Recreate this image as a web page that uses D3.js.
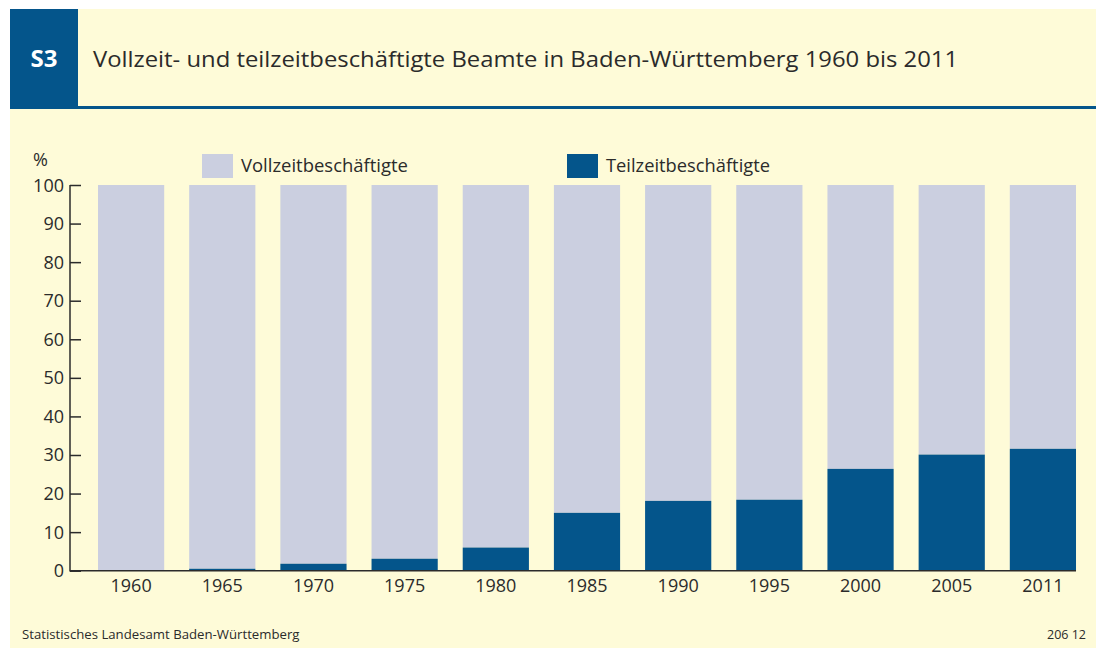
<!DOCTYPE html>
<html>
<head>
<meta charset="utf-8">
<script src="https://cdn.jsdelivr.net/npm/d3@7"></script>
<style>
  html, body { margin: 0; padding: 0; background: #ffffff; }
  svg { display: block; font-family: "Open Sans", "DejaVu Sans", sans-serif; }
</style>
</head>
<body>
<svg id="chart" width="1096" height="648"></svg>
<script>
const years = ["1960","1965","1970","1975","1980","1985","1990","1995","2000","2005","2011"];
const teilzeit = [0.1, 0.5, 1.8, 3.1, 6.0, 15.0, 18.1, 18.4, 26.4, 30.1, 31.6];
const vollzeit = teilzeit.map(v => 100 - v);
const yTicks = [0,10,20,30,40,50,60,70,80,90,100];
const seriesNames = ["Vollzeitbeschäftigte", "Teilzeitbeschäftigte"];
const title = "Vollzeit- und teilzeitbeschäftigte Beamte in Baden-Württemberg 1960 bis 2011";
const badge = "S3";
const source = "Statistisches Landesamt Baden-Württemberg";
const code = "206 12";

const cream = "#fefbd8", dark = "#04558b", light = "#cbcfe0", ink = "#2b2b2b";

const svg = d3.select("#chart");

// panel
svg.append("rect").attr("x",10).attr("y",9).attr("width",1086).attr("height",639).attr("fill",cream);
// header badge
svg.append("rect").attr("x",10).attr("y",9).attr("width",68).attr("height",98).attr("fill",dark);
svg.append("text").attr("x",44).attr("y",67).attr("text-anchor","middle")
  .attr("fill","#ffffff").attr("font-size",24).attr("font-weight","bold").text(badge);
svg.append("text").attr("x",93).attr("y",67).attr("fill",ink).attr("font-size",22)
  .attr("textLength",865).attr("lengthAdjust","spacingAndGlyphs").text(title);
svg.append("rect").attr("x",10).attr("y",106).attr("width",1086).attr("height",3).attr("fill",dark);

// scales
const y = d3.scaleLinear().domain([0,100]).range([570.7,185]);
const n = years.length;
const pi = 0.274;
const x = d3.scaleBand().domain(years).range([85.5, 1088.5]).paddingInner(pi).paddingOuter(pi/2);

// bars
const g = svg.append("g");
g.selectAll(".voll").data(years).join("rect")
  .attr("x", d => x(d)).attr("width", x.bandwidth())
  .attr("y", (d,i) => y(100)).attr("height", (d,i) => y(teilzeit[i]) - y(100))
  .attr("fill", light);
g.selectAll(".teil").data(years).join("rect")
  .attr("x", d => x(d)).attr("width", x.bandwidth())
  .attr("y", (d,i) => y(teilzeit[i])).attr("height", (d,i) => y(0) - y(teilzeit[i]))
  .attr("fill", dark);

// y axis
const yAxis = svg.append("g").attr("transform","translate(70,0)")
  .call(d3.axisRight(y).tickValues(yTicks).tickSize(11).tickFormat(""));
yAxis.select(".domain").remove();
yAxis.selectAll("line").attr("stroke", ink).attr("stroke-width",1.5);
svg.append("line").attr("x1",70).attr("x2",70).attr("y1",y(100)).attr("y2",y(0)+0.8)
  .attr("stroke",ink).attr("stroke-width",1.5);
svg.append("g").selectAll("text").data(yTicks).join("text")
  .attr("x",64).attr("y",d => y(d)+6.5).attr("text-anchor","end")
  .attr("fill",ink).attr("font-size",18).text(d => d);
svg.append("text").attr("x",33).attr("y",166).attr("fill",ink).attr("font-size",18).text("%");

// x axis
svg.append("line").attr("x1",70).attr("x2",x(years[n-1]) + x.bandwidth())
  .attr("y1",y(0)).attr("y2",y(0)).attr("stroke",ink).attr("stroke-width",1.5);
const xAxis = svg.append("g").attr("transform",`translate(0,${y(0)})`)
  .call(d3.axisBottom(x).tickSize(0).tickPadding(9));
xAxis.select(".domain").remove();
xAxis.selectAll("text").attr("fill",ink).attr("font-size",18)
  .attr("font-family","'Open Sans', 'DejaVu Sans', sans-serif");

// legend
const legend = [
  {name: seriesNames[0], color: light, x: 202, w: 167},
  {name: seriesNames[1], color: dark, x: 567, w: 164}
];
const lg = svg.append("g").selectAll("g").data(legend).join("g");
lg.append("rect").attr("x", d => d.x).attr("y",154).attr("width",31).attr("height",24).attr("fill", d => d.color);
lg.append("text").attr("x", d => d.x + 39).attr("y",172).attr("fill",ink).attr("font-size",18.5)
  .attr("textLength", d => d.w).attr("lengthAdjust","spacingAndGlyphs").text(d => d.name);

// footer
svg.append("text").attr("x",22).attr("y",639).attr("fill",ink).attr("font-size",13.2).text(source);
svg.append("text").attr("x",1086).attr("y",639).attr("text-anchor","end").attr("fill",ink).attr("font-size",12.5).text(code);
</script>
</body>
</html>
